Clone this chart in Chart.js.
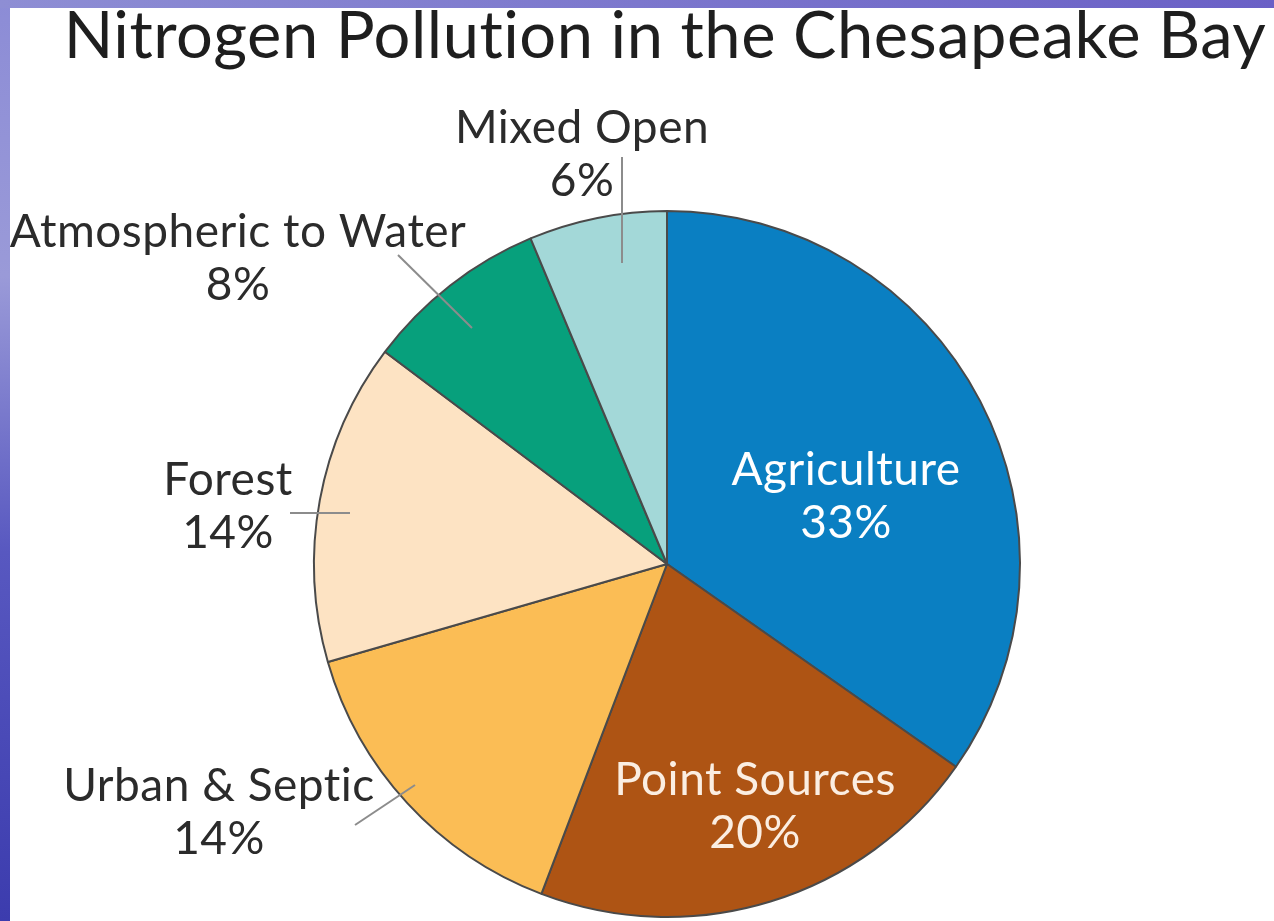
<!DOCTYPE html>
<html>
<head>
<meta charset="utf-8">
<script src="https://cdn.jsdelivr.net/npm/chart.js@4"></script>
<style>
  html, body { margin: 0; padding: 0; background: #fff; }
  #wrap { width: 1274px; height: 921px; position: relative; }
</style>
</head>
<body>
<div id="wrap"><canvas id="pieChart"></canvas></div>
<script>
const titleText = "Nitrogen Pollution in the Chesapeake Bay";
const categories = ["Agriculture", "Point Sources", "Urban & Septic", "Forest", "Atmospheric to Water", "Mixed Open"];
const shares = [33, 20, 14, 14, 8, 6];
const sliceColors = ["#0a7fc2", "#ae5414", "#fbbd55", "#fde3c3", "#07a07c", "#a3d8d8"];

// where each label sits, offsets from the pie centre in px
const labelLayout = [
  { pos: [179, -94], color: "#ffffff", line: null },
  { pos: [88, 216], color: "#fbeee2", line: null },
  { pos: [-448, 222], color: "#2b2b2b", line: [[-312, 261], [-252, 221]] },
  { pos: [-439, -84], color: "#2b2b2b", line: [[-377, -51], [-317, -51]] },
  { pos: [-429, -332], color: "#2b2b2b", line: [[-269, -309], [-195, -236]] },
  { pos: [-85, -436], color: "#2b2b2b", line: [[-45, -407], [-45, -301]] }
];

const framePlugin = {
  id: "frame",
  beforeDraw(chart) {
    const ctx = chart.ctx;
    ctx.save();
    ctx.fillStyle = "#ffffff";
    ctx.fillRect(0, 0, chart.width, chart.height);
    const g = ctx.createLinearGradient(0, 0, 0, chart.height);
    g.addColorStop(0, "#8c8cd6");
    g.addColorStop(0.3, "#9a9ad8");
    g.addColorStop(0.6, "#5858c0");
    g.addColorStop(1, "#3c3cae");
    ctx.fillStyle = g;
    ctx.fillRect(0, 0, 10, chart.height);
    const t = ctx.createLinearGradient(0, 0, chart.width, 0);
    t.addColorStop(0, "#8e8ed4");
    t.addColorStop(1, "#6a60c6");
    ctx.fillStyle = t;
    ctx.fillRect(0, 0, chart.width, 8);
    ctx.restore();
  },
  afterDraw(chart) {
    const ctx = chart.ctx;
    ctx.save();
    ctx.fillStyle = "#1e1e1e";
    ctx.font = "65px Lato";
    ctx.letterSpacing = "0.5px";
    ctx.textAlign = "center";
    ctx.textBaseline = "alphabetic";
    ctx.fillText(titleText, 665, 58);
    ctx.restore();
  }
};

const labelPlugin = {
  id: "sliceLabels",
  afterDatasetsDraw(chart) {
    const ctx = chart.ctx;
    const arcs = chart.getDatasetMeta(0).data;
    ctx.save();
    arcs.forEach((arc, i) => {
      const cx = arc.x, cy = arc.y;
      const lay = labelLayout[i];
      if (lay.line) {
        ctx.strokeStyle = "#8c8c8c";
        ctx.lineWidth = 2;
        ctx.beginPath();
        ctx.moveTo(cx + lay.line[0][0], cy + lay.line[0][1]);
        ctx.lineTo(cx + lay.line[1][0], cy + lay.line[1][1]);
        ctx.stroke();
      }
      ctx.fillStyle = lay.color;
      ctx.font = "46px Lato";
      ctx.letterSpacing = "0.5px";
      ctx.textAlign = "center";
      ctx.textBaseline = "middle";
      ctx.fillText(categories[i], cx + lay.pos[0], cy + lay.pos[1]);
      ctx.fillText(shares[i] + "%", cx + lay.pos[0], cy + lay.pos[1] + 53);
    });
    ctx.restore();
  }
};

new Chart(document.getElementById("pieChart"), {
  type: "pie",
  data: {
    labels: categories,
    datasets: [{
      data: shares,
      backgroundColor: sliceColors,
      borderColor: "#4a4a4a",
      borderWidth: 2
    }]
  },
  options: {
    responsive: true,
    maintainAspectRatio: false,
    animation: false,
    layout: { padding: { left: 313, right: 253, top: 210, bottom: 3 } },
    plugins: {
      legend: { display: false },
      tooltip: { enabled: false },
      title: { display: false }
    }
  },
  plugins: [framePlugin, labelPlugin]
});
</script>
</body>
</html>
